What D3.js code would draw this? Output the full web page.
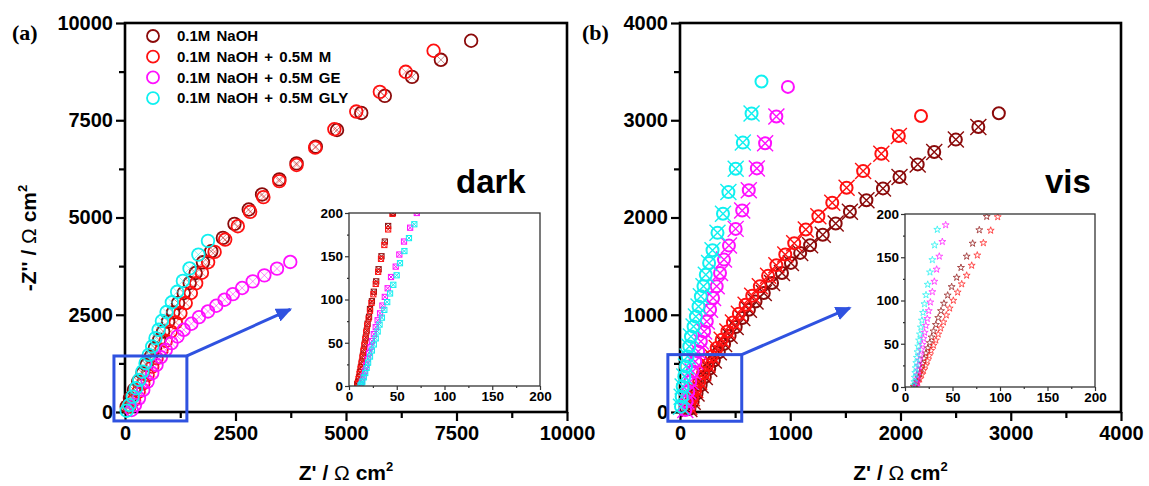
<!DOCTYPE html>
<html lang="en">
<head>
<meta charset="UTF-8">
<title>EIS Nyquist plots - dark / vis</title>
<style>
  body { margin: 0; background: #fff; }
  svg { display: block; font-family: "Liberation Sans", Arial, sans-serif; }
  .tick text { font-weight: bold; fill: #000; }
</style>
</head>
<body>
<div id="chart"></div>
<script src="https://d3js.org/d3.v7.min.js"></script>
<script>
// ---- data (Z', -Z'') ----
const seriesNames = ["0.1M NaOH", "0.1M NaOH + 0.5M M", "0.1M NaOH + 0.5M GE", "0.1M NaOH + 0.5M GLY"];
const seriesColors = ["#8b0a0a", "#ff1010", "#ff10ff", "#10f0f0"];

// panel (a) dark
const darkNaOH = [[7831,9544],[7147,9054],[6494,8616],[5878,8127],[5345,7688],[4797,7250],[4317,6821],[3881,6392],[3491,5979],[3101,5593],[2800,5206],[2477,4837],[2215,4476],[1952,4131],[1764,3848],[1599,3574],[1464,3316],[1329,3059],[1201,2801],[1089,2560],[976,2328],[863,2070],[773,1856],[676,1641],[586,1426],[488,1211],[398,997],[300,781],[203,567],[113,352],[38,137]];
const darkM = [[6982,9286],[6351,8745],[5766,8230],[5232,7724],[4737,7268],[4302,6796],[3881,6349],[3491,5936],[3131,5523],[2831,5146],[2552,4776],[2267,4433],[2027,4116],[1880,3850],[1740,3580],[1610,3310],[1490,3059],[1374,2801],[1254,2544],[1149,2302],[1036,2070],[923,1830],[826,1598],[713,1384],[615,1168],[511,954],[413,740],[308,523],[203,309],[98,137]];
const darkGE = [[3739,3857],[3439,3685],[3153,3513],[2890,3358],[2650,3188],[2440,3030],[2252,2887],[2065,2732],[1877,2585],[1674,2440],[1502,2268],[1329,2113],[1187,1941],[1052,1770],[923,1598],[811,1409],[713,1211],[615,997],[511,781],[413,567],[315,352],[225,180],[150,52]];
const darkGLY = [[1877,4400],[1660,4046],[1460,3690],[1310,3370],[1180,3090],[1060,2820],[940,2570],[835,2340],[760,2113],[690,1899],[615,1684],[540,1469],[465,1255],[395,1039],[322,825],[248,611],[173,394],[98,180],[38,34]];

// panel (b) vis
const visNaOH = [[2892,3072],[2706,2931],[2502,2801],[2306,2673],[2156,2546],[1991,2416],[1841,2299],[1691,2178],[1541,2059],[1412,1938],[1295,1822],[1180,1715],[1090,1636],[1006,1533],[925,1430],[835,1327],[760,1224],[685,1137],[625,1052],[565,966],[505,873],[450,785],[400,700],[352,615],[307,530],[265,445],[225,360],[187,275],[150,190],[115,105],[85,30]];
const visM = [[2186,3044],[1985,2838],[1826,2656],[1661,2477],[1511,2306],[1381,2151],[1255,2013],[1141,1876],[1036,1736],[955,1619],[874,1510],[799,1400],[724,1292],[655,1196],[595,1103],[534,1010],[480,921],[430,828],[378,742],[333,657],[288,570],[249,485],[210,399],[174,312],[138,227],[108,141],[84,55]];
const visGE = [[979,3343],[874,3038],[772,2763],[697,2505],[624,2281],[564,2072],[505,1883],[444,1711],[399,1567],[363,1430],[333,1292],[300,1172],[273,1052],[243,931],[219,828],[189,725],[165,622],[138,519],[114,416],[93,313],[75,210],[60,107],[48,21]];
const visGLY = [[739,3399],[649,3069],[570,2770],[505,2502],[439,2261],[390,2038],[340,1842],[295,1663],[264,1533],[234,1412],[213,1292],[189,1189],[168,1086],[144,982],[123,879],[99,776],[84,673],[69,570],[54,467],[39,364],[24,261],[15,158],[9,55]];

// inset (a) dark, 0-200 window
const insetDarkNaOH = [[46,200],[41,185],[37.5,167],[34,150],[31,135],[28.5,121],[26,109],[24,98],[22,89],[21,80],[19.5,72],[18.5,64],[17.5,56],[16.5,49],[15.5,42],[14.5,35],[13.5,28],[12.5,22],[11.5,16],[10.5,10],[9.5,5],[8.5,2]];
const insetDarkM = [[45.5,199],[41,181],[37,163],[33.5,147],[30.5,132],[28,118],[25.5,106],[23.5,96],[22,87],[20.5,78],[19,70],[18,62],[17,54],[16,47],[15,40],[14,33],[13,26],[12,20],[11,14],[10,8],[9,3]];
const insetDarkGE = [[71,200],[64,183],[57.6,167],[52.7,152],[48.9,138],[44,126],[40.5,113],[37.5,103],[35,93],[32.5,84],[30,76],[28,68],[26,60],[24,52],[22.5,45],[21,38],[19.5,31],[18,24],[16.5,17],[15,11],[13.5,5],[12.5,1]];
const insetDarkGLY = [[68.4,187],[62.8,171],[58,156],[53.4,142],[49.9,128],[46.4,117],[43,107],[40,97],[37,88],[34.5,79],[32,71],[30,63],[28,55],[26,48],[24,41],[22,34],[20,27],[18.5,21],[17,15],[15.5,10],[14,5],[13,2],[12,0.5]];

// inset (b) vis
const insetVisNaOH = [[86,197],[78.2,181.5],[71.2,166],[64.9,151],[58.9,138],[54.4,126.6],[49.1,115.8],[44.9,106],[41,96.6],[37.9,88],[35,80],[32.5,72],[30,64.5],[28,57.5],[26,51],[24,45],[22,39],[20,33],[18.5,27],[17,21.5],[15.5,16],[14,11],[12.5,6.5],[11,3],[9.5,0.5]];
const insetVisM = [[97.6,196.6],[90.2,181],[82.5,166.6],[76.1,152.3],[70.2,140.5],[64.9,129],[59.7,119],[55.4,109.5],[50.9,100],[47,91],[43.5,83],[40.5,75],[37.5,68],[35,61],[32.5,54],[30,48],[27.5,42],[25.5,36],[23.5,30],[21.5,24.5],[19.5,19],[17.5,14],[15.5,9],[13.5,5],[11.5,2],[9.5,0.3]];
const insetVisGE = [[42.8,187.3],[39.3,168],[36.1,151],[33.3,136],[30.9,122],[28.8,110],[26.7,98],[25,88],[23.5,79],[22,71],[20.7,63],[19.5,56],[18.3,49],[17.2,43],[16.2,37],[15.3,31],[14.5,25],[13.8,19.5],[13.2,14],[12.7,9],[12.3,4.5],[12,1]];
const insetVisGLY = [[34,182],[31.2,164],[28.8,147],[26.3,132.7],[23.9,118.5],[22.1,106.4],[20.5,96],[19,86],[17.8,77],[16.7,69],[15.7,61],[14.8,54],[14,47],[13.2,40.5],[12.5,34],[11.9,28],[11.3,22],[10.8,16.5],[10.3,11],[9.9,6],[9.5,2]];

// tick values
const darkTicks = [0, 2500, 5000, 7500, 10000];
const darkMinor = [1250, 3750, 6250, 8750];
const visTicks = [0, 1000, 2000, 3000, 4000];
const visMinor = [500, 1500, 2500, 3500];
const insetTicks = [0, 50, 100, 150, 200];
const insetMinor = [25, 75, 125, 175];

// zoomed regions marked by the blue boxes, and arrow tips (data units)
const darkZoomBox = [-250, 1400, -230, 1440];
const darkArrowTip = [3740, 2640];
const visZoomBox = [-110, 560, -95, 590];
const visArrowTip = [1540, 1070];

const W = 1149, H = 486;
const svg = d3.select("#chart").append("svg").attr("width", W).attr("height", H);

const defs = svg.append("defs");
defs.append("marker")
    .attr("id", "arrowhead")
    .attr("markerUnits", "userSpaceOnUse")
    .attr("markerWidth", 16).attr("markerHeight", 14)
    .attr("refX", 14).attr("refY", 7)
    .attr("orient", "auto")
  .append("path")
    .attr("d", "M0,0 L16,7 L0,14 Z")
    .attr("fill", "#2f52e0");

function crossPath(s) {
    return `M${-s},${-s}L${s},${s}M${-s},${s}L${s},${-s}`;
}

function drawPanel(p) {
    const x = d3.scaleLinear().domain([0, p.xMax]).range([p.left, p.right]);
    const y = d3.scaleLinear().domain([0, p.yMax]).range([p.bottom, p.top]);
    const g = svg.append("g");

    // axes: major + minor ticks, outward
    const yAx = g.append("g").attr("transform", `translate(${p.left},0)`)
        .call(d3.axisLeft(y).tickValues(p.ticks).tickSize(9).tickPadding(3).tickFormat(d3.format("d")));
    const yMin = g.append("g").attr("transform", `translate(${p.left},0)`)
        .call(d3.axisLeft(y).tickValues(p.minor).tickSize(6).tickFormat(""));
    const xAx = g.append("g").attr("transform", `translate(0,${p.bottom})`)
        .call(d3.axisBottom(x).tickValues(p.ticks).tickSize(9).tickPadding(5).tickFormat(d3.format("d")));
    const xMin = g.append("g").attr("transform", `translate(0,${p.bottom})`)
        .call(d3.axisBottom(x).tickValues(p.minor).tickSize(6).tickFormat(""));
    [yAx, yMin, xAx, xMin].forEach(a => {
        a.select(".domain").remove();
        a.selectAll("line").attr("stroke", "#000").attr("stroke-width", 2.2);
        a.selectAll("text").style("font-size", "20px");
    });

    // frame
    g.append("rect")
        .attr("x", p.left).attr("y", p.top)
        .attr("width", p.right - p.left).attr("height", p.bottom - p.top)
        .attr("fill", "none").attr("stroke", "#000").attr("stroke-width", 2.6);

    // data: circles + crosses (crosses missing on the last point)
    p.series.forEach((data, i) => {
        const col = seriesColors[i];
        const sg = g.append("g");
        sg.selectAll("circle").data(data).join("circle")
            .attr("cx", d => x(d[0])).attr("cy", d => y(d[1]))
            .attr("r", p.r).attr("fill", "none")
            .attr("stroke", col).attr("stroke-width", p.sw);
        sg.selectAll("path").data(data.slice(1)).join("path")
            .attr("transform", d => `translate(${x(d[0])},${y(d[1])})`)
            .attr("d", crossPath(p.crossSize))
            .attr("fill", "none").attr("stroke", col)
            .attr("stroke-width", p.crossWidth).attr("opacity", p.crossOpacity);
    });

    // blue zoom box + arrow
    const bx = p.zoomBox;
    g.append("rect")
        .attr("x", x(bx[0])).attr("y", y(bx[3]))
        .attr("width", x(bx[1]) - x(bx[0])).attr("height", y(bx[2]) - y(bx[3]))
        .attr("fill", "none").attr("stroke", "#2f52e0").attr("stroke-width", 3);
    g.append("line")
        .attr("x1", x(bx[1])).attr("y1", y(bx[3]))
        .attr("x2", x(p.arrowTip[0])).attr("y2", y(p.arrowTip[1]))
        .attr("stroke", "#2f52e0").attr("stroke-width", 3)
        .attr("marker-end", "url(#arrowhead)");

    // condition label
    g.append("text")
        .attr("x", p.condX).attr("y", 193)
        .attr("font-size", 33).attr("font-weight", "bold")
        .text(p.cond);

    // panel letter
    g.append("text")
        .attr("x", p.letterX).attr("y", 40)
        .attr("font-family", "'Liberation Serif', 'Times New Roman', serif")
        .attr("font-size", 22).attr("font-weight", "bold")
        .text(p.letter);

    // x title
    const xt = g.append("text")
        .attr("x", (p.left + p.right) / 2).attr("y", 480)
        .attr("text-anchor", "middle").attr("font-size", 21).attr("font-weight", "bold");
    xt.append("tspan").text("Z' / ");
    xt.append("tspan").attr("font-weight", "normal").text("Ω");
    xt.append("tspan").text(" cm");
    xt.append("tspan").attr("dy", -9).attr("font-size", 13).text("2");

    drawInset(p.inset);
}

function drawInset(q) {
    const x = d3.scaleLinear().domain([0, 200]).range([q.left, q.right]);
    const y = d3.scaleLinear().domain([0, 200]).range([q.bottom, q.top]);
    const g = svg.append("g");
    g.append("rect")
        .attr("x", q.left).attr("y", q.top)
        .attr("width", q.right - q.left).attr("height", q.bottom - q.top)
        .attr("fill", "#fff");

    const axes = [
        g.append("g").attr("transform", `translate(${q.left},0)`)
            .call(d3.axisLeft(y).tickValues(insetTicks).tickSize(4).tickPadding(2)),
        g.append("g").attr("transform", `translate(${q.left},0)`)
            .call(d3.axisLeft(y).tickValues(insetMinor).tickSize(2).tickFormat("")),
        g.append("g").attr("transform", `translate(0,${q.bottom})`)
            .call(d3.axisBottom(x).tickValues(insetTicks).tickSize(4).tickPadding(1)),
        g.append("g").attr("transform", `translate(0,${q.bottom})`)
            .call(d3.axisBottom(x).tickValues(insetMinor).tickSize(2).tickFormat(""))
    ];
    axes.forEach(a => {
        a.select(".domain").remove();
        a.selectAll("line").attr("stroke", "#333").attr("stroke-width", 1.2);
        a.selectAll("text").style("font-size", "13.5px");
    });

    const clipId = "clip" + q.id;
    defs.append("clipPath").attr("id", clipId)
      .append("rect")
        .attr("x", q.left).attr("y", q.top)
        .attr("width", q.right - q.left).attr("height", q.bottom - q.top);
    const pg = g.append("g").attr("clip-path", `url(#${clipId})`);

    q.series.forEach((data, i) => {
        const col = seriesColors[i];
        const sg = pg.append("g").attr("fill", "none").attr("stroke", col).attr("stroke-width", 1);
        if (q.marker === "square") {
            sg.selectAll("rect").data(data).join("rect")
                .attr("x", d => x(d[0]) - 2.6).attr("y", d => y(d[1]) - 2.6)
                .attr("width", 5.2).attr("height", 5.2);
            sg.selectAll("path").data(data).join("path")
                .attr("transform", d => `translate(${x(d[0])},${y(d[1])})`)
                .attr("d", crossPath(2.4));
        } else {
            sg.attr("opacity", 0.8);
            sg.selectAll("path").data(data).join("path")
                .attr("transform", d => `translate(${x(d[0])},${y(d[1])})`)
                .attr("d", d3.symbol(d3.symbolStar, 15)())
                .attr("stroke-width", 0.9);
        }
    });

    g.append("rect")
        .attr("x", q.left).attr("y", q.top)
        .attr("width", q.right - q.left).attr("height", q.bottom - q.top)
        .attr("fill", "none").attr("stroke", "#333").attr("stroke-width", 1.3);
}

drawPanel({
    left: 125, right: 567, top: 23, bottom: 412,
    xMax: 10000, yMax: 10000, ticks: darkTicks, minor: darkMinor,
    series: [darkNaOH, darkM, darkGE, darkGLY],
    r: 6.3, sw: 1.8, crossSize: 5, crossWidth: 0.9, crossOpacity: 0.55,
    zoomBox: darkZoomBox, arrowTip: darkArrowTip,
    cond: "dark", condX: 456, letter: "(a)", letterX: 12,
    inset: { id: "a", left: 349, right: 540, top: 213, bottom: 386, marker: "square",
             series: [insetDarkNaOH, insetDarkM, insetDarkGE, insetDarkGLY] }
});

drawPanel({
    left: 680, right: 1121, top: 23, bottom: 412,
    xMax: 4000, yMax: 4000, ticks: visTicks, minor: visMinor,
    series: [visNaOH, visM, visGE, visGLY],
    r: 6, sw: 2, crossSize: 8, crossWidth: 1.4, crossOpacity: 1,
    zoomBox: visZoomBox, arrowTip: visArrowTip,
    cond: "vis", condX: 1045, letter: "(b)", letterX: 582,
    inset: { id: "b", left: 905, right: 1095, top: 214, bottom: 387, marker: "star",
             series: [insetVisNaOH, insetVisM, insetVisGE, insetVisGLY] }
});

// y title (panel a only)
const yt = svg.append("text")
    .attr("transform", "translate(36,238) rotate(-90)")
    .attr("text-anchor", "middle").attr("font-size", 21).attr("font-weight", "bold");
yt.append("tspan").text("-Z'' / ");
yt.append("tspan").attr("font-weight", "normal").text("Ω");
yt.append("tspan").text(" cm");
yt.append("tspan").attr("dy", -9).attr("font-size", 13).text("2");

// legend
const legend = svg.append("g").attr("transform", "translate(153,36)");
const rows = legend.selectAll("g").data(seriesNames).join("g")
    .attr("transform", (d, i) => `translate(0,${i * 20.7})`);
rows.append("circle").attr("r", 6).attr("fill", "none")
    .attr("stroke", (d, i) => seriesColors[i]).attr("stroke-width", 1.8);
rows.append("text").attr("x", 24).attr("dy", "0.35em")
    .attr("font-size", 15).attr("font-weight", "bold").attr("word-spacing", 2)
    .text(d => d);
</script>
</body>
</html>
